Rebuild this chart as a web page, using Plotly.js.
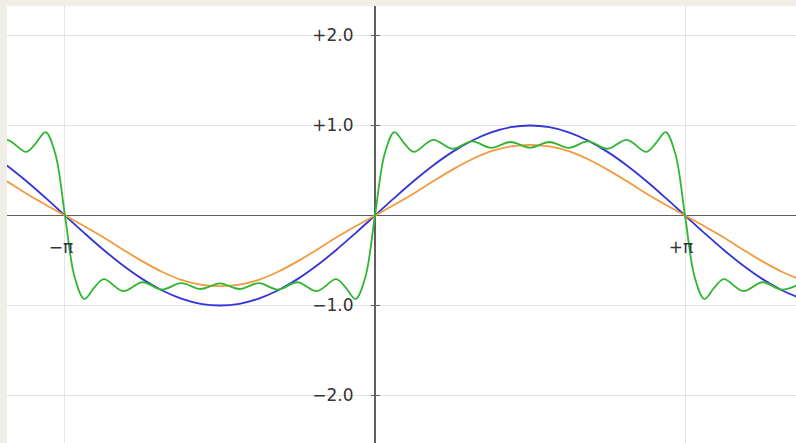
<!DOCTYPE html>
<html>
<head>
<meta charset="utf-8">
<script src="https://cdn.plot.ly/plotly-3.0.1.min.js"></script>
<style>html,body{margin:0;padding:0;background:#f1ede7;}#chart{width:796px;height:443px;}</style>
</head>
<body>
<div id="chart"></div>
<script>
// x positions in units of pi
var xSmooth = [-1.25,-1.1875,-1.125,-1.0625,-1,-0.9375,-0.875,-0.8125,-0.75,-0.6875,-0.625,-0.5625,-0.5,-0.4375,-0.375,-0.3125,-0.25,-0.1875,-0.125,-0.0625,0,0.0625,0.125,0.1875,0.25,0.3125,0.375,0.4375,0.5,0.5625,0.625,0.6875,0.75,0.8125,0.875,0.9375,1,1.0625,1.125,1.1875,1.25,1.3125,1.375];
var blueY = [0.707,0.556,0.383,0.195,0,-0.195,-0.383,-0.556,-0.707,-0.831,-0.924,-0.981,-1,-0.981,-0.924,-0.831,-0.707,-0.556,-0.383,-0.195,0,0.195,0.383,0.556,0.707,0.831,0.924,0.981,1,0.981,0.924,0.831,0.707,0.556,0.383,0.195,0,-0.195,-0.383,-0.556,-0.707,-0.831,-0.924];
var orangeY = [0.51,0.38,0.245,0.12,0,-0.12,-0.245,-0.38,-0.51,-0.625,-0.715,-0.767,-0.785,-0.767,-0.715,-0.625,-0.51,-0.38,-0.245,-0.12,0,0.12,0.245,0.38,0.51,0.625,0.715,0.767,0.785,0.767,0.715,0.625,0.51,0.38,0.245,0.12,0,-0.12,-0.245,-0.38,-0.51,-0.625,-0.715];
var greenX = [-1.25,-1.1875,-1.125,-1.09375,-1.0625,-1.03125,-1,-0.96875,-0.9375,-0.90625,-0.875,-0.8125,-0.75,-0.6875,-0.625,-0.5625,-0.5,-0.4375,-0.375,-0.3125,-0.25,-0.1875,-0.125,-0.09375,-0.0625,-0.03125,0,0.03125,0.0625,0.09375,0.125,0.1875,0.25,0.3125,0.375,0.4375,0.5,0.5625,0.625,0.6875,0.75,0.8125,0.875,0.90625,0.9375,0.96875,1,1.03125,1.0625,1.09375,1.125,1.1875,1.25,1.3125,1.375];
var greenY = [0.742,0.840,0.707,0.804,0.927,0.686,0,-0.686,-0.927,-0.804,-0.707,-0.840,-0.742,-0.823,-0.752,-0.817,-0.754,-0.817,-0.752,-0.823,-0.742,-0.840,-0.707,-0.804,-0.927,-0.686,0,0.686,0.927,0.804,0.707,0.840,0.742,0.823,0.752,0.817,0.754,0.817,0.752,0.823,0.742,0.840,0.707,0.804,0.927,0.686,0,-0.686,-0.927,-0.804,-0.707,-0.840,-0.742,-0.823,-0.752];
var xTickVals = [-1, 1];
var xTickText = ['\u2212\u03c0', '+\u03c0'];
var yTickVals = [-2, -1, 1, 2];
var yTickText = ['\u22122.0', '\u22121.0', '+1.0', '+2.0'];

var xRange = [-1.187, 1.358];
var yRange = [-2.528, 2.328];
var yPos = (0 - xRange[0]) / (xRange[1] - xRange[0]);
var xPos = (0 - yRange[0]) / (yRange[1] - yRange[0]);

var lw = 1.8;
var traces = [
  {x: xSmooth, y: blueY, mode: 'lines', line: {color: '#3333d8', width: lw, shape: 'spline'}, hoverinfo: 'skip'},
  {x: xSmooth, y: orangeY, mode: 'lines', line: {color: '#f29a3e', width: lw, shape: 'spline'}, hoverinfo: 'skip'},
  {x: greenX, y: greenY, mode: 'lines', line: {color: '#31b631', width: lw, shape: 'spline'}, hoverinfo: 'skip'},
  {x: [0], y: [0], yaxis: 'y2', mode: 'markers', marker: {opacity: 0}, hoverinfo: 'skip'}
];
var font = {family: 'DejaVu Sans', size: 17, color: '#333'};
var layout = {
  width: 796, height: 443,
  margin: {l: 7, r: 0, t: 6, b: 0, pad: 0},
  paper_bgcolor: '#f1ede7',
  plot_bgcolor: '#ffffff',
  showlegend: false,
  font: font,
  xaxis: {
    range: xRange, anchor: 'free', position: xPos,
    tickvals: xTickVals, ticktext: xTickText,
    showgrid: true, gridcolor: '#e4e4e4', gridwidth: 1,
    zeroline: true, zerolinecolor: '#5f5f5f', zerolinewidth: 1.5,
    showline: false, ticks: 'outside', ticklen: 12, tickcolor: 'rgba(0,0,0,0)',
    ticklabelstandoff: 4, ticklabelshift: -4, tickfont: font, fixedrange: true
  },
  yaxis: {
    range: yRange, anchor: 'free', position: yPos,
    tickvals: yTickVals, ticktext: yTickText,
    showgrid: true, gridcolor: '#e4e4e4', gridwidth: 1,
    zeroline: true, zerolinecolor: '#5f5f5f', zerolinewidth: 1.5,
    showline: false, ticks: 'outside', ticklen: 4, tickcolor: '#5f5f5f', tickwidth: 1.5,
    ticklabelstandoff: 14, tickfont: font, fixedrange: true
  },
  yaxis2: {
    range: yRange, overlaying: 'y', anchor: 'free', position: yPos,
    tickvals: yTickVals, showticklabels: false,
    showgrid: false, zeroline: false, showline: false,
    ticks: 'inside', ticklen: 4, tickcolor: '#5f5f5f', tickwidth: 1.5, fixedrange: true
  }
};
Plotly.newPlot('chart', traces, layout, {displayModeBar: false, staticPlot: true});
</script>
</body>
</html>
